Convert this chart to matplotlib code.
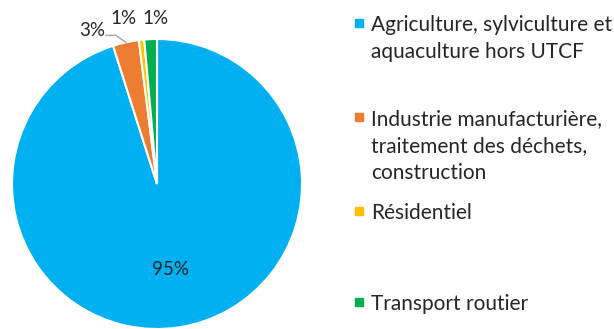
import numpy as np
import matplotlib
matplotlib.use("Agg")
import matplotlib.pyplot as plt
from matplotlib.patches import Rectangle

# Répartition des émissions par secteur (%)
secteurs = [
    "Agriculture, sylviculture et\naquaculture hors UTCF",
    "Industrie manufacturière,\ntraitement des déchets,\nconstruction",
    "Résidentiel",
    "Transport routier",
]
parts = [95.1, 2.9, 0.6, 1.4]
couleurs = ["#00B0F0", "#ED7D31", "#FFC000", "#00B050"]

plt.rcParams["font.family"] = ["Lato", "DejaVu Sans"]

W, H = 614, 329
fig = plt.figure(figsize=(W / 100, H / 100), dpi=100)
ax = fig.add_axes([0, 0, 1, 1])

cx, cy, r = 157, H - 184, 145
wedges, _ = ax.pie(parts, colors=couleurs, startangle=90, counterclock=False,
                   center=(cx, cy), radius=r,
                   wedgeprops=dict(edgecolor="white", linewidth=1.5))
ax.set_xlim(0, W)
ax.set_ylim(0, H)
ax.set_aspect("equal")
ax.axis("off")

def etiquette(v):
    return f"{round(v)}%"

txt = dict(fontsize=13.5, color="#262626")

# 95 % à l'intérieur de la grande part
w = wedges[0]
a = np.deg2rad((w.theta1 + w.theta2) / 2)
ax.text(cx + 0.6 * r * np.cos(a), cy + 0.6 * r * np.sin(a), etiquette(parts[0]),
        ha="center", va="center", **txt)

# petites parts : étiquettes à l'extérieur
w = wedges[1]
a = np.deg2rad((w.theta1 + w.theta2) / 2)
bord = (cx + r * np.cos(a), cy + r * np.sin(a))
ax.plot([bord[0], bord[0] - 10, bord[0] - 20], [bord[1], bord[1] + 7, bord[1] + 7],
        color="#A6A6A6", lw=1)
ax.text(bord[0] - 34, H - 31, etiquette(parts[1]), ha="center", va="center", **txt)
for w, v, x in zip(wedges[2:], parts[2:], [124, 156]):
    ax.text(x, H - 19, etiquette(v), ha="center", va="center", **txt)

# légende (une ligne de texte à la fois)
lignes_base = [31, 125, 219, 310]
pas = 27
for nom, c, yb in zip(secteurs, couleurs, lignes_base):
    ax.add_patch(Rectangle((355, H - yb + 4.5), 8, 8, color=c))
    for i, ligne in enumerate(nom.split("\n")):
        ax.text(371, H - yb - i * pas, ligne, ha="left", va="baseline",
                fontsize=15, color="#262626")

fig.savefig("out.png", dpi=100)
